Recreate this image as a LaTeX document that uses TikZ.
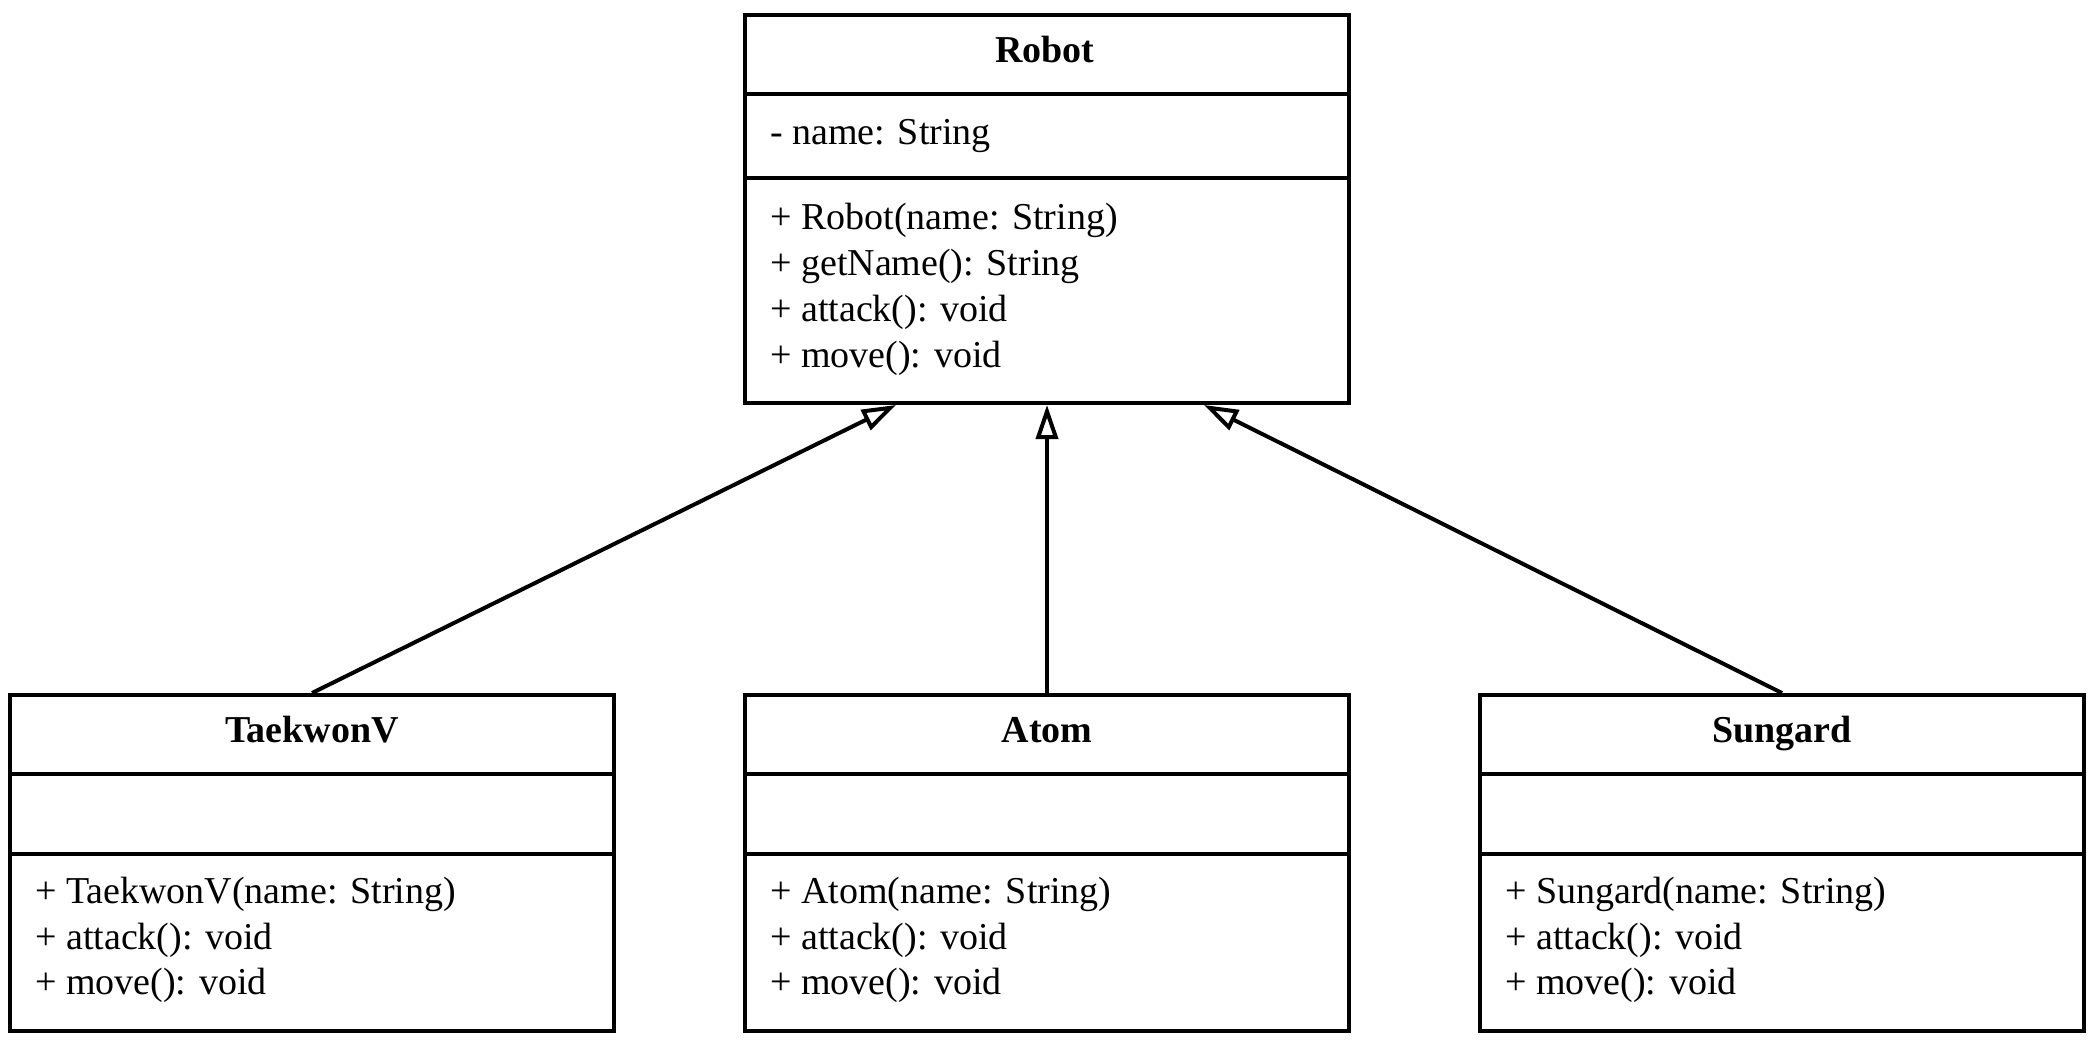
\documentclass[tikz,border=0pt]{standalone}
\usepackage{fontspec}
\setmainfont{Liberation Serif}
\usetikzlibrary{arrows.meta,calc}
\begin{document}
\begin{tikzpicture}[x=1pt,y=-1pt,
 classbox/.style={draw,line width=4pt,minimum width=604pt,inner sep=0pt,anchor=north west},
 divider/.style={line width=4pt},
 title/.style={font=\fontsize{38}{46}\selectfont\bfseries,text height=0.7em,text depth=0.2em,inner sep=0pt},
 member/.style={font=\fontsize{38}{46}\selectfont,anchor=west,text height=0.7em,text depth=0.2em,inner sep=0pt},
 inherit/.style={line width=4pt,-{Triangle[open,length=34pt,width=22pt]}}]
\useasboundingbox (0,0) rectangle (2096,1040);

% Robot
\node[classbox,minimum height=388pt] (robot) at (743,13) {};
\draw[divider] ($(robot.north west)+(0,81)$) -- ($(robot.north east)+(0,81)$);
\draw[divider] ($(robot.north west)+(0,165)$) -- ($(robot.north east)+(0,165)$);
\node[title] (robotT) at (1045,60) {Robot};
\node[member] (robotA) at (770,142) {- name: String};
\node[member] (robotM1) at (770,227) {+ Robot(name: String)};
\node[member] (robotM2) at (770,273) {+ getName(): String};
\node[member] (robotM3) at (770,319) {+ attack(): void};
\node[member] (robotM4) at (770,365) {+ move(): void};

% Subclasses
\foreach \nm/\lbl/\x in {taekwon/TaekwonV/8, atom/Atom/743, sungard/Sungard/1478}{
  \node[classbox,minimum height=336pt] (\nm) at (\x,693) {};
  \draw[divider] ($(\nm.north west)+(0,81)$) -- ($(\nm.north east)+(0,81)$);
  \draw[divider] ($(\nm.north west)+(0,161)$) -- ($(\nm.north east)+(0,161)$);
  \node[title] (\nm T) at ($(\nm.north)+(0,47)$) {\lbl};
  \node[member] (\nm M1) at ($(\nm.north west)+(27,208)$) {+ \lbl(name: String)};
  \node[member] (\nm M2) at ($(\nm.north west)+(27,254)$) {+ attack(): void};
  \node[member] (\nm M3) at ($(\nm.north west)+(27,299)$) {+ move(): void};
}

% Inheritance
\draw[inherit] (taekwon.north) -- ($(robot.south)+(-151,0)$);
\draw[inherit] (atom.north) -- (robot.south);
\draw[inherit] (sungard.north) -- ($(robot.south)+(157,0)$);
\end{tikzpicture}
\end{document}
